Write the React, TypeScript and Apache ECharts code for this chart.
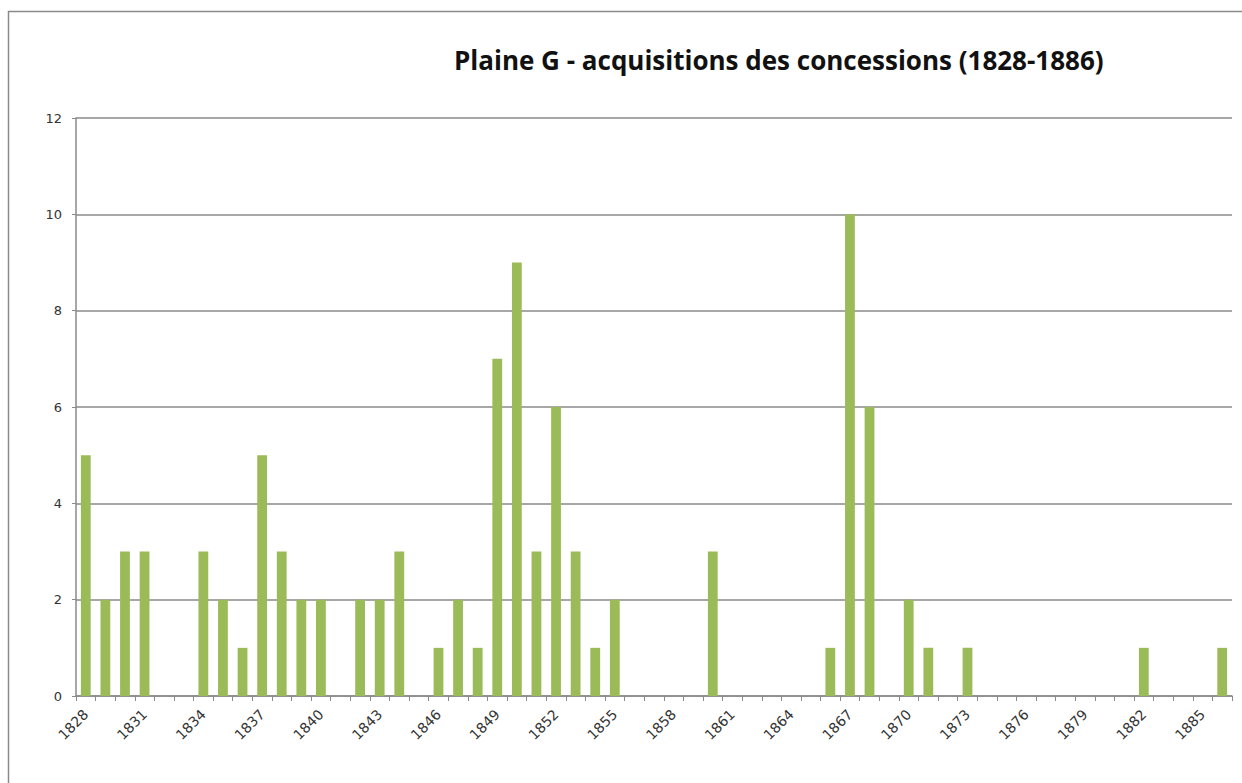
import React, { useEffect, useRef } from "react";
import * as echarts from "echarts";

const years: string[] = [];
for (let y = 1828; y <= 1886; y++) years.push(String(y));

const acquisitionYears = [
  1828, 1829, 1830, 1831, 1834, 1835, 1836, 1837, 1838, 1839, 1840, 1842, 1843, 1844,
  1846, 1847, 1848, 1849, 1850, 1851, 1852, 1853, 1854, 1855, 1860, 1866, 1867, 1868,
  1870, 1871, 1873, 1882, 1886,
];
const acquisitionCounts = [
  5, 2, 3, 3, 3, 2, 1, 5, 3, 2, 2, 2, 2, 3,
  1, 2, 1, 7, 9, 3, 6, 3, 1, 2, 3, 1, 10, 6,
  2, 1, 1, 1, 1,
];

const titleText = "Plaine G - acquisitions des concessions (1828-1886)";

export default function App() {
  const ref = useRef<HTMLDivElement>(null);
  useEffect(() => {
    if (!ref.current) return;
    const chart = echarts.init(ref.current, null, { renderer: "svg" });
    const values = years.map((y) => {
      const i = acquisitionYears.indexOf(Number(y));
      return i >= 0 ? acquisitionCounts[i] : 0;
    });
    chart.setOption({
      animation: false,
      backgroundColor: "#ffffff",
      title: {
        text: titleText,
        left: 449,
        top: 42,
        textStyle: {
          fontFamily: "Open Sans",
          fontWeight: "bold",
          fontSize: 26,
          color: "#111111",
        },
      },
      graphic: [
        {
          type: "rect",
          shape: { x: 8.5, y: 11.5, width: 1300, height: 900 },
          style: { fill: "none", stroke: "#8a8a8a", lineWidth: 1.5 },
          silent: true,
          z: -1,
        },
      ],
      grid: { left: 76, right: 10, top: 118, bottom: 87, containLabel: false },
      xAxis: {
        type: "category",
        data: years,
        boundaryGap: true,
        axisLine: { show: true, lineStyle: { color: "#8a8a8a", width: 1.5 } },
        axisTick: {
          show: true,
          interval: 0,
          length: 5,
          lineStyle: { color: "#8a8a8a" },
        },
        axisLabel: {
          interval: 2,
          rotate: 45,
          margin: 16,
          fontSize: 14,
          fontFamily: "DejaVu Sans",
          color: "#333333",
        },
        splitLine: { show: false },
      },
      yAxis: {
        type: "value",
        min: 0,
        max: 12,
        interval: 2,
        axisLine: { show: true, lineStyle: { color: "#8a8a8a", width: 1.5 } },
        axisTick: { show: true, length: 4, lineStyle: { color: "#8a8a8a" } },
        axisLabel: {
          margin: 14,
          fontSize: 13,
          fontFamily: "DejaVu Sans",
          color: "#333333",
        },
        splitLine: { show: true, lineStyle: { color: "#8a8a8a", width: 1.5 } },
      },
      series: [
        {
          type: "bar",
          data: values,
          barWidth: "50%",
          itemStyle: { color: "#9bbb59" },
        },
      ],
    });
    return () => chart.dispose();
  }, []);
  return (
    <div
      ref={ref}
      style={{ position: "fixed", left: 0, top: 0, width: 1242, height: 783 }}
    />
  );
}
